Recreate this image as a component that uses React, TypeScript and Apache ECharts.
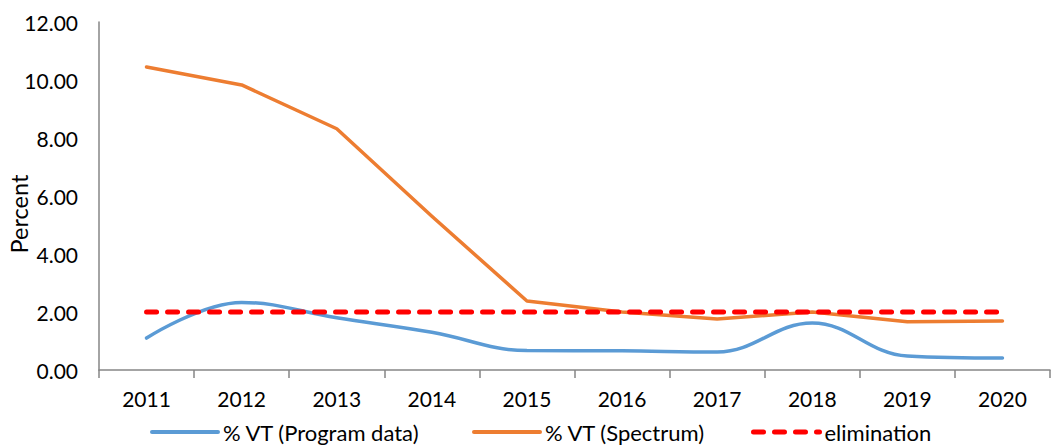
import React, { useEffect, useRef } from "react";
import * as echarts from "echarts";

const categories = ["2011", "2012", "2013", "2014", "2015", "2016", "2017", "2018", "2019", "2020"];
const programData = [1.1, 2.33, 1.8, 1.3, 0.67, 0.66, 0.62, 1.62, 0.48, 0.41];
const spectrumData = [10.45, 9.83, 8.32, 5.3, 2.38, 2.0, 1.76, 2.0, 1.66, 1.69];
const eliminationData = [2, 2, 2, 2, 2, 2, 2, 2, 2, 2];
const yTicks = { min: 0, max: 12, interval: 2 };

const FONT = "Lato, 'Open Sans', sans-serif";

export default function App() {
  const ref = useRef<HTMLDivElement>(null);
  useEffect(() => {
    if (!ref.current) return;
    const chart = echarts.init(ref.current, undefined, { renderer: "svg" });
    const legendText = { fontFamily: FONT, fontSize: 22, color: "#000", lineHeight: 22 };
    const legendBase = {
      top: 421,
      itemWidth: 66,
      itemHeight: 12,
      itemGap: 7,
      padding: 0,
      textStyle: legendText,
      itemStyle: { opacity: 0 },
    };
    chart.setOption({
      animation: false,
      textStyle: { fontFamily: FONT },
      grid: { left: 99, right: 12, top: 22, bottom: 76, containLabel: false, outerBoundsMode: "none" },
      legend: [
        { ...legendBase, data: ["% VT (Program data)"], left: 150, lineStyle: { width: 4 } },
        { ...legendBase, data: ["% VT (Spectrum)"], left: 472, lineStyle: { width: 4 } },
        { ...legendBase, data: ["elimination"], left: 751, itemGap: 10, lineStyle: { width: 5, type: [10, 11], cap: "round" } },
      ],
      xAxis: {
        type: "category",
        data: categories,
        boundaryGap: true,
        axisLine: { lineStyle: { color: "#868686", width: 1.5 } },
        axisTick: { show: true, length: 8, lineStyle: { color: "#868686", width: 1.5 } },
        axisLabel: { color: "#000", fontSize: 21, fontFamily: FONT, margin: 18 },
      },
      yAxis: {
        type: "value",
        min: yTicks.min,
        max: yTicks.max,
        interval: yTicks.interval,
        name: "Percent",
        nameLocation: "middle",
        nameRotate: 90,
        nameGap: 68,
        nameMoveOverlap: false,
        nameTextStyle: { color: "#000", fontSize: 23.5, fontFamily: FONT, padding: [0, 36, 0, 0] },
        axisLine: { show: true, lineStyle: { color: "#868686", width: 1.5 } },
        axisTick: { show: false },
        splitLine: { show: false },
        axisLabel: {
          color: "#000",
          fontSize: 21,
          fontFamily: FONT,
          margin: 21,
          formatter: (v: number) => v.toFixed(2),
        },
      },
      series: [
        {
          name: "% VT (Program data)",
          type: "line",
          data: programData,
          smooth: 0.4,
          symbol: "none",
          lineStyle: { color: "#5B9BD5", width: 3.5, cap: "round" },
          itemStyle: { color: "#5B9BD5" },
        },
        {
          name: "% VT (Spectrum)",
          type: "line",
          data: spectrumData,
          smooth: false,
          symbol: "none",
          lineStyle: { color: "#ED7D31", width: 3.5, cap: "round", join: "round" },
          itemStyle: { color: "#ED7D31" },
        },
        {
          name: "elimination",
          type: "line",
          data: eliminationData,
          symbol: "none",
          lineStyle: { color: "#FF0000", width: 5, type: [10, 11], cap: "round" },
          itemStyle: { color: "#FF0000" },
        },
      ],
    });
    return () => chart.dispose();
  }, []);
  return <div ref={ref} style={{ width: 1062, height: 446, position: "absolute", left: 0, top: 0 }} />;
}
